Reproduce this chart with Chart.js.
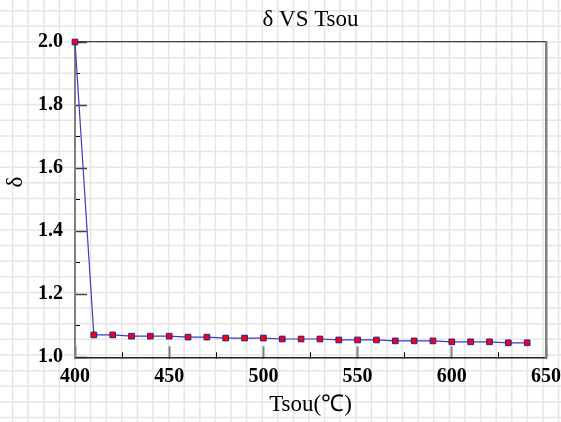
<!DOCTYPE html>
<html>
<head>
<meta charset="utf-8">
<script src="https://cdn.jsdelivr.net/npm/chart.js@4.4.1/dist/chart.umd.min.js"></script>
<style>
  html, body { margin: 0; padding: 0; background: #ffffff; }
  #wrap { width: 561px; height: 422px; }
</style>
</head>
<body>
<div id="wrap"><canvas id="chart" width="561" height="422"></canvas></div>
<script>
// data
const tsou = [400, 410, 420, 430, 440, 450, 460, 470, 480, 490, 500, 510, 520,
              530, 540, 550, 560, 570, 580, 590, 600, 610, 620, 630, 640];
const delta = [2.0, 1.071, 1.071, 1.067, 1.067, 1.067, 1.064, 1.064, 1.061, 1.061, 1.061,
               1.058, 1.058, 1.058, 1.055, 1.055, 1.055, 1.052, 1.052, 1.052,
               1.049, 1.049, 1.049, 1.046, 1.046];
const xMajorTicks = [400, 450, 500, 550, 600, 650];
const yMajorTicks = [1.0, 1.2, 1.4, 1.6, 1.8, 2.0];

const serif = "'Liberation Serif', 'Times New Roman', serif";

// paper grid behind everything
const paperGrid = {
    id: "paperGrid",
    beforeDraw(chart) {
        const ctx = chart.ctx;
        const area = chart.chartArea;
        const stepX = 15.6, stepY = 15.65;
        ctx.save();
        ctx.fillStyle = "#ffffff";
        ctx.fillRect(0, 0, chart.width, chart.height);
        ctx.strokeStyle = "#e6e6e6";
        ctx.lineWidth = 1.5;
        ctx.beginPath();
        let x0 = area.left - Math.ceil(area.left / stepX) * stepX;
        for (let x = x0; x <= chart.width; x += stepX) {
            ctx.moveTo(x, 0);
            ctx.lineTo(x, chart.height);
        }
        let y0 = area.top - Math.ceil(area.top / stepY) * stepY;
        for (let y = y0; y <= chart.height; y += stepY) {
            ctx.moveTo(0, y);
            ctx.lineTo(chart.width, y);
        }
        ctx.stroke();
        ctx.restore();
    }
};

// y axis title sits a bit above the middle in the original
const yTitle = {
    id: "yTitle",
    afterDraw(chart) {
        const ctx = chart.ctx;
        ctx.save();
        ctx.translate(16, 182);
        ctx.rotate(-Math.PI / 2);
        ctx.font = "23px " + serif;
        ctx.fillStyle = "#000000";
        ctx.textAlign = "center";
        ctx.textBaseline = "middle";
        ctx.fillText("\u03b4", 0, 0);
        ctx.restore();
    }
};

new Chart(document.getElementById("chart"), {
    type: "line",
    data: {
        labels: tsou,
        datasets: [{
            data: tsou.map((t, i) => ({ x: t, y: delta[i] })),
            borderColor: "#3a3ac8",
            borderWidth: 1.2,
            tension: 0,
            pointStyle: "rect",
            pointRadius: 4,
            pointBorderWidth: 1,
            pointBackgroundColor: "#ff0000",
            pointBorderColor: "#2020a0",
            clip: false
        }]
    },
    options: {
        responsive: false,
        animation: false,
        layout: { padding: 0 },
        plugins: {
            legend: { display: false },
            tooltip: { enabled: false },
            title: {
                display: true,
                text: "\u03b4 VS Tsou",
                fullSize: false,
                color: "#000000",
                font: { family: serif, size: 23, weight: "normal", lineHeight: 1.2 },
                padding: { top: 6.5, bottom: 7.9 }
            }
        },
        scales: {
            x: {
                type: "linear",
                position: "bottom",
                weight: 1,
                min: 400,
                max: 650,
                afterFit: (s) => { s.height = 64.7; s.paddingLeft = 0; s.paddingRight = 15; },
                ticks: {
                    stepSize: 25,
                    color: "#000000",
                    padding: 13,
                    maxRotation: 0,
                    font: { family: serif, size: 20, weight: "bold" },
                    callback: (v) => xMajorTicks.includes(v) ? String(v) : ""
                },
                grid: {
                    drawOnChartArea: false,
                    tickLength: -5,
                    tickColor: "#000000",
                    tickWidth: 1
                },
                border: { display: true, color: "#202020", width: 1.5 },
                title: {
                    display: true,
                    text: "Tsou(\u2103)",
                    color: "#000000",
                    font: { family: serif, size: 23, weight: "normal", lineHeight: 1.2 },
                    padding: { bottom: 3 }
                }
            },
            xMajor: {
                type: "linear",
                position: "bottom",
                weight: 0,
                min: 400,
                max: 650,
                afterFit: (s) => { s.height = 0; s.paddingLeft = 0; s.paddingRight = 0; },
                ticks: { display: false, stepSize: 50 },
                grid: {
                    drawOnChartArea: false,
                    tickLength: -11,
                    tickColor: "#808080",
                    tickWidth: 2
                },
                border: { display: false }
            },
            xTop: {
                type: "linear",
                position: "top",
                min: 400,
                max: 650,
                afterFit: (s) => { s.height = 0; s.paddingLeft = 0; s.paddingRight = 0; },
                ticks: { display: false },
                grid: { display: false },
                border: { display: true, color: "#404040", width: 1.2 }
            },
            y: {
                type: "linear",
                position: "left",
                weight: 1,
                min: 1.0,
                max: 2.0,
                afterFit: (s) => { s.width = 75; },
                ticks: {
                    stepSize: 0.05,
                    color: "#000000",
                    padding: 17,
                    font: { family: serif, size: 20, weight: "bold" },
                    callback: (v) => {
                        const r = Math.round(v * 100) / 100;
                        return yMajorTicks.some((m) => Math.abs(m - r) < 1e-6) ? r.toFixed(1) : "";
                    }
                },
                grid: {
                    drawOnChartArea: false,
                    tickLength: -5,
                    tickColor: "#000000",
                    tickWidth: 1
                },
                border: { display: true, color: "#808080", width: 2 }
            },
            yMajor: {
                type: "linear",
                position: "left",
                weight: 0,
                min: 1.0,
                max: 2.0,
                afterFit: (s) => { s.width = 0; },
                ticks: { display: false, stepSize: 0.2 },
                grid: {
                    drawOnChartArea: false,
                    tickLength: -12,
                    tickColor: "#404040",
                    tickWidth: 1.5
                },
                border: { display: false }
            },
            yRight: {
                type: "linear",
                position: "right",
                min: 1.0,
                max: 2.0,
                afterFit: (s) => { s.width = 0; },
                ticks: { display: false },
                grid: { display: false },
                border: { display: true, color: "#808080", width: 2.5 }
            }
        }
    },
    plugins: [paperGrid, yTitle]
});
</script>
</body>
</html>
